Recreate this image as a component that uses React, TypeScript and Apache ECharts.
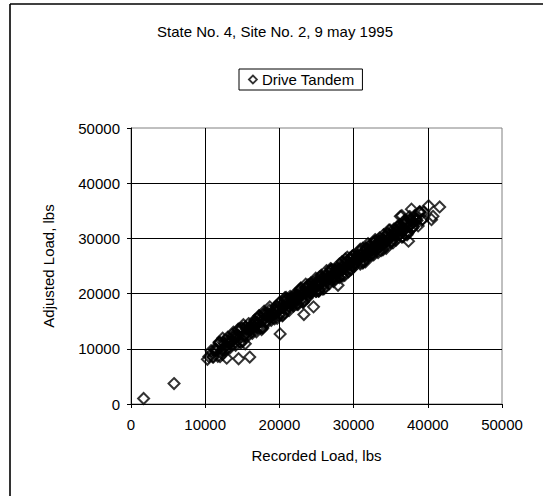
import React, { useEffect, useRef } from "react";
import * as echarts from "echarts";

const TITLE = "State No. 4, Site No. 2, 9 may 1995";
const SERIES_NAME = "Drive Tandem";
const X_NAME = "Recorded Load, lbs";
const Y_NAME = "Adjusted Load, lbs";
const AXIS_MIN = 0;
const AXIS_MAX = 50000;
const AXIS_STEP = 10000;

// Recorded load (lbs)
const recorded: number[] = [
  // outliers
  1700, 5800, 10300, 12900, 14500, 16000, 20100, 23300, 24600, 18700, 13800, 15400, 27900, 37400, 36300, 37800, 40100, 40700, 41600, 36500, 40500,
  // group 1
  10500, 10800, 11100, 11400, 11700, 12000, 12300, 12600, 12900, 13200, 13500, 13800, 14100, 14400, 14700, 15000, 15300, 15600, 15900, 16200,
  16500, 16800, 17100, 17400, 17700, 18000, 18300, 18600, 18900, 19200, 19500, 19800, 20100, 20400, 20700, 21000, 21300, 21600, 21900, 22200,
  22500, 22800, 23100, 23400, 23700, 24000, 24300, 24600, 24900, 25200, 25500, 25800, 26100, 26400, 26700, 27000, 27300, 27600, 27900, 28200,
  28500, 28800, 29100, 29400, 29700, 30000, 30300, 30600, 30900, 31200, 31500, 31800, 32100, 32400, 32700, 33000, 33300, 33600, 33900, 34200,
  34500, 34800, 35100, 35400, 35700, 36000, 36300, 36600, 36900, 37200, 37500, 37800, 38100, 38400, 38700, 39000, 39300,
  // group 2
  11250, 11550, 11850, 12150, 12450, 12750, 13050, 13350, 13650, 13950, 14250, 14550, 14850, 15150, 15450, 15750, 16050, 16350, 16650, 16950,
  17250, 17550, 17850, 18150, 18450, 18750, 19050, 19350, 19650, 19950, 20250, 20550, 20850, 21150, 21450, 21750, 22050, 22350, 22650, 22950,
  23250, 23550, 23850, 24150, 24450, 24750, 25050, 25350, 25650, 25950, 26250, 26550, 26850, 27150, 27450, 27750, 28050, 28350, 28650, 28950,
  29250, 29550, 29850, 30150, 30450, 30750, 31050, 31350, 31650, 31950, 32250, 32550, 32850, 33150, 33450, 33750, 34050, 34350, 34650, 34950,
  35250, 35550, 35850, 36150, 36450, 36750, 37050, 37350, 37650, 37950, 38250, 38550, 38850, 39150, 39450,
  // group 3
  20500, 20900, 21300, 21700, 22100, 22500, 22900, 23300, 23700, 24100, 24500, 24900, 25300, 25700, 26100, 26500, 26900, 27300, 27700, 28100,
  28500, 28900, 29300, 29700, 30100, 30500, 30900, 31300, 31700, 32100, 32500, 32900, 33300, 33700, 34100, 34500, 34900, 35300, 35700, 36100,
  36500, 36900, 37300, 37700,
  // group 4
  12000, 12350, 12700, 13050, 13400, 13750, 14100, 14450, 14800, 15150, 15500, 15850, 16200, 16550, 16900, 17250, 17600, 17950, 18300, 18650,
  19000, 19350, 19700, 20050, 20400, 20750, 21100, 21450, 21800, 22150, 22500, 22850, 23200, 23550, 23900, 24250, 24600, 24950, 25300, 25650,
  26000, 26350, 26700, 27050, 27400, 27750, 28100, 28450, 28800, 29150, 29500, 29850, 30200, 30550, 30900, 31250, 31600, 31950, 32300, 32650,
  33000, 33350, 33700, 34050, 34400, 34750, 35100, 35450, 35800, 36150, 36500, 36850, 37200, 37550, 37900, 38250,
  // group 5
  16000, 16500, 17000, 17500, 18000, 18500, 19000, 19500, 20000, 20500, 21000, 21500, 22000, 22500, 23000, 23500, 24000, 24500, 25000, 25500,
  26000, 26500, 27000, 27500, 28000, 28500, 29000, 29500, 30000, 30500, 31000, 31500, 32000, 32500, 33000, 33500, 34000, 34500, 35000, 35500,
  36000, 36500, 37000,
  // group 6
  11000, 11450, 11900, 12350, 12800, 13250, 13700, 14150, 14600, 15050, 15500, 15950, 16400, 16850, 17300, 17750, 18200, 18650, 19100, 19550,
  20000, 20450, 20900, 21350, 21800, 22250, 22700, 23150, 23600, 24050, 24500, 24950, 25400, 25850, 26300, 26750, 27200, 27650, 28100, 28550,
  29000, 29450, 29900, 30350, 30800, 31250, 31700, 32150, 32600, 33050, 33500, 33950, 34400, 34850, 35300, 35750, 36200, 36650, 37100, 37550,
  38000, 38450, 38900,
];

// Adjusted load (lbs)
const adjusted: number[] = [
  // outliers
  1000, 3700, 8100, 8300, 8200, 8500, 12700, 16200, 17600, 17600, 13000, 10900, 21500, 29500, 34000, 35300, 35900, 34000, 35700, 34100, 33400,
  // group 1
  8600, 9650, 8510, 9680, 8640, 11100, 9860, 10930, 9890, 11050, 11210, 12280, 11140, 12300, 11260, 13730, 12490, 13550, 12510, 13680,
  13840, 14900, 13760, 14930, 13890, 16350, 15110, 16180, 15140, 16300, 16460, 17530, 16390, 17550, 16510, 18980, 17740, 18800, 17760, 18930,
  19090, 20150, 19010, 20180, 19140, 21600, 20360, 21430, 20390, 21550, 21710, 22780, 21640, 22800, 21760, 24230, 22990, 24050, 23010, 24180,
  24340, 25400, 24260, 25430, 24390, 26850, 25610, 26680, 25640, 26800, 26960, 28030, 26890, 28050, 27010, 29480, 28240, 29300, 28260, 29430,
  29590, 30650, 29510, 30680, 29640, 32100, 30860, 31930, 30890, 32050, 32210, 33280, 32140, 33300, 32260, 34730, 33490,
  // group 2
  9940, 9610, 11070, 9630, 11190, 10460, 11320, 10180, 12540, 11810, 12570, 12230, 13690, 12260, 13820, 13080, 13940, 12810, 15170, 14430,
  15190, 14860, 16320, 14880, 16440, 15710, 16570, 15430, 17790, 17060, 17820, 17480, 18940, 17510, 19070, 18330, 19190, 18060, 20420, 19680,
  20440, 20110, 21570, 20130, 21690, 20960, 21820, 20680, 23040, 22310, 23070, 22730, 24190, 22760, 24320, 23580, 24440, 23310, 25670, 24930,
  25690, 25360, 26820, 25380, 26940, 26210, 27070, 25930, 28290, 27560, 28320, 27980, 29440, 28010, 29570, 28830, 29690, 28560, 30920, 30180,
  30940, 30610, 32070, 30630, 32190, 31460, 32320, 31180, 33540, 32810, 33570, 33230, 34690, 33260, 34820,
  // group 3
  17540, 19290, 16940, 19290, 18440, 19290, 21040, 18690, 21040, 20190, 21040, 22790, 20440, 22790, 21940, 22790, 24540, 22190, 24540, 23690,
  24540, 26290, 23940, 26290, 25440, 26290, 28040, 25690, 28040, 27190, 28040, 29790, 27440, 29790, 28940, 29790, 31540, 29190, 31540, 30690,
  31540, 33290, 30940, 33290,
  // group 4
  8600, 11910, 9810, 12120, 11130, 12230, 10640, 13540, 11050, 14360, 12260, 14570, 13580, 14680, 13090, 15990, 13500, 16810, 14710, 17020,
  16030, 17130, 15540, 18440, 15950, 19260, 17160, 19470, 18480, 19580, 17990, 20890, 18400, 21710, 19610, 21920, 20930, 22030, 20440, 23340,
  20850, 24160, 22060, 24370, 23380, 24480, 22890, 25790, 23300, 26610, 24510, 26820, 25830, 26930, 25340, 28240, 25750, 29060, 26960, 29270,
  28280, 29380, 27790, 30690, 28200, 31510, 29410, 31720, 30730, 31830, 30240, 33140, 30650, 33960, 31860, 34170,
  // group 5
  13900, 13640, 15480, 13860, 15450, 16090, 15830, 17660, 16050, 17640, 18280, 18010, 19850, 18240, 19830, 20460, 20200, 22040, 20430, 22010,
  22650, 22390, 24230, 22610, 24200, 24840, 24580, 26410, 24800, 26390, 27030, 26760, 28600, 26990, 28580, 29210, 28950, 30790, 29180, 30760,
  31400, 31140, 32980,
  // group 6
  8530, 9920, 11210, 9010, 11600, 11090, 10890, 12280, 13580, 11370, 13960, 13460, 13250, 14640, 15940, 13730, 16330, 15820, 15610, 17010,
  18300, 16090, 18690, 18180, 17980, 19370, 20660, 18460, 21050, 20540, 20340, 21730, 23030, 20820, 23410, 22910, 22700, 24090, 25390, 23180,
  25780, 25270, 25060, 26460, 27750, 25540, 28140, 27630, 27430, 28820, 30110, 27910, 30500, 29990, 29790, 31180, 32480, 30270, 32860, 32360,
  32150, 33540, 34840,
];

export default function App() {
  const ref = useRef<HTMLDivElement>(null);
  useEffect(() => {
    if (!ref.current) return;
    const chart = echarts.init(ref.current, null, { renderer: "svg" });
    const data = recorded.map((x, i) => [x, adjusted[i]]);
    const font = "Arial, 'Liberation Sans', sans-serif";
    chart.setOption({
      animation: false,
      backgroundColor: "#fff",
      textStyle: { fontFamily: font },
      title: {
        text: TITLE,
        left: 270,
        top: 19,
        textAlign: "center",
        textStyle: { fontSize: 15, fontWeight: "normal", color: "#000", fontFamily: font },
      },
      legend: {
        data: [SERIES_NAME],
        left: 239,
        top: 69,
        padding: [3, 8, 3, 9],
        borderColor: "#000",
        borderWidth: 1,
        itemWidth: 8,
        itemHeight: 8,
        itemGap: 5,
        icon: "diamond",
        itemStyle: { color: "#fff", borderColor: "#000", borderWidth: 1.8 },
        textStyle: { fontSize: 15, color: "#000", fontFamily: font, padding: [0, 0, 0, 0] },
      },
      graphic: [
        { type: "line", shape: { x1: 10, y1: 4, x2: 10, y2: 496 }, style: { stroke: "#333", lineWidth: 2 } },
        { type: "line", shape: { x1: 10, y1: 4, x2: 543, y2: 4 }, style: { stroke: "#000", lineWidth: 1.5 } },
      ],
      grid: {
        left: 131,
        right: 41,
        top: 128,
        bottom: 92,
        show: true,
        borderColor: "#808080",
        borderWidth: 1,
        backgroundColor: "transparent",
      },
      xAxis: {
        type: "value",
        min: AXIS_MIN,
        max: AXIS_MAX,
        interval: AXIS_STEP,
        name: X_NAME,
        nameLocation: "middle",
        nameGap: 44,
        nameTextStyle: { fontSize: 15, color: "#000", fontFamily: font },
        axisLine: { show: true, lineStyle: { color: "#000", width: 1 } },
        axisTick: { show: true, inside: false, length: 4, lineStyle: { color: "#000" } },
        axisLabel: { fontSize: 15, color: "#000", margin: 13, fontFamily: font, formatter: (v: number) => String(v) },
        splitLine: { show: true, showMinLine: false, showMaxLine: false, lineStyle: { color: "#000", width: 1 } },
      },
      yAxis: {
        type: "value",
        min: AXIS_MIN,
        max: AXIS_MAX,
        interval: AXIS_STEP,
        name: Y_NAME,
        nameLocation: "middle",
        nameGap: 75,
        nameRotate: 90,
        nameTextStyle: { fontSize: 15, color: "#000", fontFamily: font },
        axisLine: { show: true, lineStyle: { color: "#000", width: 1 } },
        axisTick: { show: true, inside: false, length: 4, lineStyle: { color: "#000" } },
        axisLabel: { fontSize: 15, color: "#000", margin: 11, fontFamily: font, formatter: (v: number) => String(v) },
        splitLine: { show: true, showMinLine: false, showMaxLine: false, lineStyle: { color: "#000", width: 1 } },
      },
      series: [
        {
          name: SERIES_NAME,
          type: "scatter",
          symbol: "diamond",
          symbolSize: 11,
          data,
          itemStyle: { color: "rgba(255,255,255,0)", borderColor: "#000", borderWidth: 2 },
        },
      ],
    });
    return () => chart.dispose();
  }, []);
  return (
    <div
      ref={ref}
      style={{ position: "fixed", left: 0, top: 0, width: 543, height: 496 }}
    />
  );
}
